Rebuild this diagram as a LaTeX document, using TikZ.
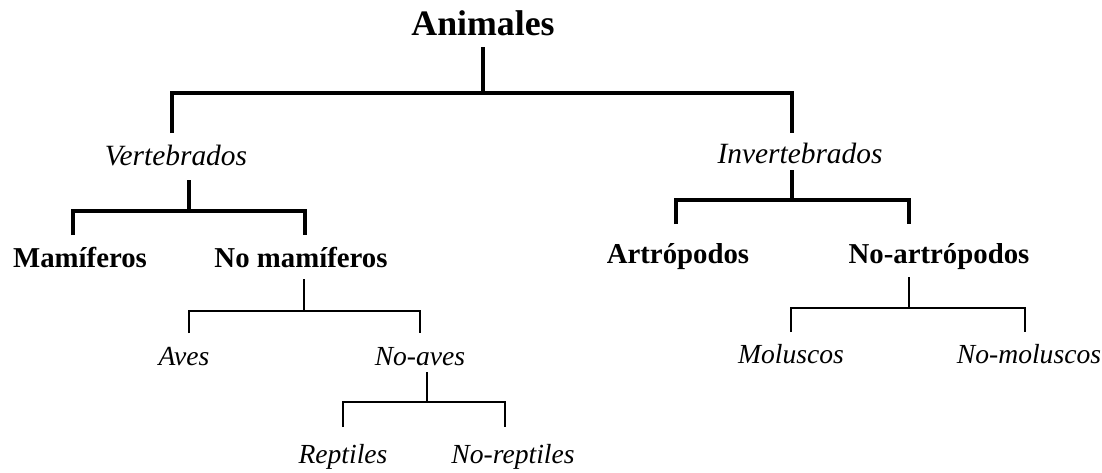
\documentclass[tikz,border=0pt]{standalone}
\usepackage{fontspec}
\setmainfont{Liberation Serif}
\tikzset{
  raiz/.style={anchor=base,inner sep=0pt,font=\fontsize{17.9}{21}\selectfont\bfseries},
  grupo/.style={anchor=base,inner sep=0pt,font=\fontsize{14.7}{18}\selectfont\itshape},
  clase/.style={anchor=base,inner sep=0pt,font=\fontsize{14.4}{17}\selectfont\bfseries},
  subclase/.style={anchor=base,inner sep=0pt,font=\fontsize{13.8}{17}\selectfont\itshape},
  rama/.style={line width=2pt},
  ramamed/.style={line width=1.7pt},
  ramafina/.style={line width=0.65pt},
}
\begin{document}
\begin{tikzpicture}[x=0.5pt,y=-0.5pt]
  \useasboundingbox (0,0) rectangle (1102,472);
  % textos
  \node[raiz]     (anim)   at (483,35)  {Animales};
  \node[grupo]    (vert)   at (176,165) {Vertebrados};
  \node[grupo]    (invert) at (800,163) {Invertebrados};
  \node[clase]    (mam)    at (80,267)  {Mamíferos};
  \node[clase]    (nomam)  at (301,267) {No mamíferos};
  \node[clase]    (art)    at (678,263) {Artrópodos};
  \node[clase]    (nart)   at (939,263) {No-artrópodos};
  \node[subclase] (aves)   at (184,365) {Aves};
  \node[subclase] (noaves) at (420,365) {No-aves};
  \node[subclase] (mol)    at (791,363) {Moluscos};
  \node[subclase] (nomol)  at (1029,363) {No-moluscos};
  \node[subclase] (rep)    at (343,463) {Reptiles};
  \node[subclase] (norep)  at (513,463) {No-reptiles};
  % ramas
  \draw[rama] ([yshift=-6pt]anim.base) -- ++(0,46) coordinate (b1);
  \draw[rama] ([xshift=-2pt,yshift=16pt]vert.base) |- (b1) -| ([xshift=-4pt,yshift=15pt]invert.base);
  \draw[ramamed] ([xshift=6.5pt,yshift=-7.5pt]vert.base) -- ++(0,31) coordinate (b2);
  \draw[ramamed] ([xshift=-3.5pt,yshift=16pt]mam.base) |- (b2) -| ([xshift=2pt,yshift=16pt]nomam.base);
  \draw[ramamed] ([xshift=-4pt,yshift=-3.5pt]invert.base) -- ++(0,30) coordinate (b3);
  \draw[ramamed] ([xshift=-1pt,yshift=19.5pt]art.base) |- (b3) -| ([xshift=-15pt,yshift=19.5pt]nart.base);
  \draw[ramafina] ([xshift=1.5pt,yshift=-6pt]nomam.base) -- ++(0,32) coordinate (b4);
  \draw[ramafina] ([xshift=2.5pt,yshift=16pt]aves.base) |- (b4) -| ([yshift=16pt]noaves.base);
  \draw[ramafina] ([xshift=-15pt,yshift=-7pt]nart.base) -- ++(0,31) coordinate (b5);
  \draw[ramafina] ([yshift=15.5pt]mol.base) |- (b5) -| ([xshift=-2pt,yshift=15.5pt]nomol.base);
  \draw[ramafina] ([xshift=3.5pt,yshift=-3.5pt]noaves.base) -- ++(0,30) coordinate (b6);
  \draw[ramafina] ([yshift=18pt]rep.base) |- (b6) -| ([xshift=-4pt,yshift=18pt]norep.base);
\end{tikzpicture}
\end{document}
